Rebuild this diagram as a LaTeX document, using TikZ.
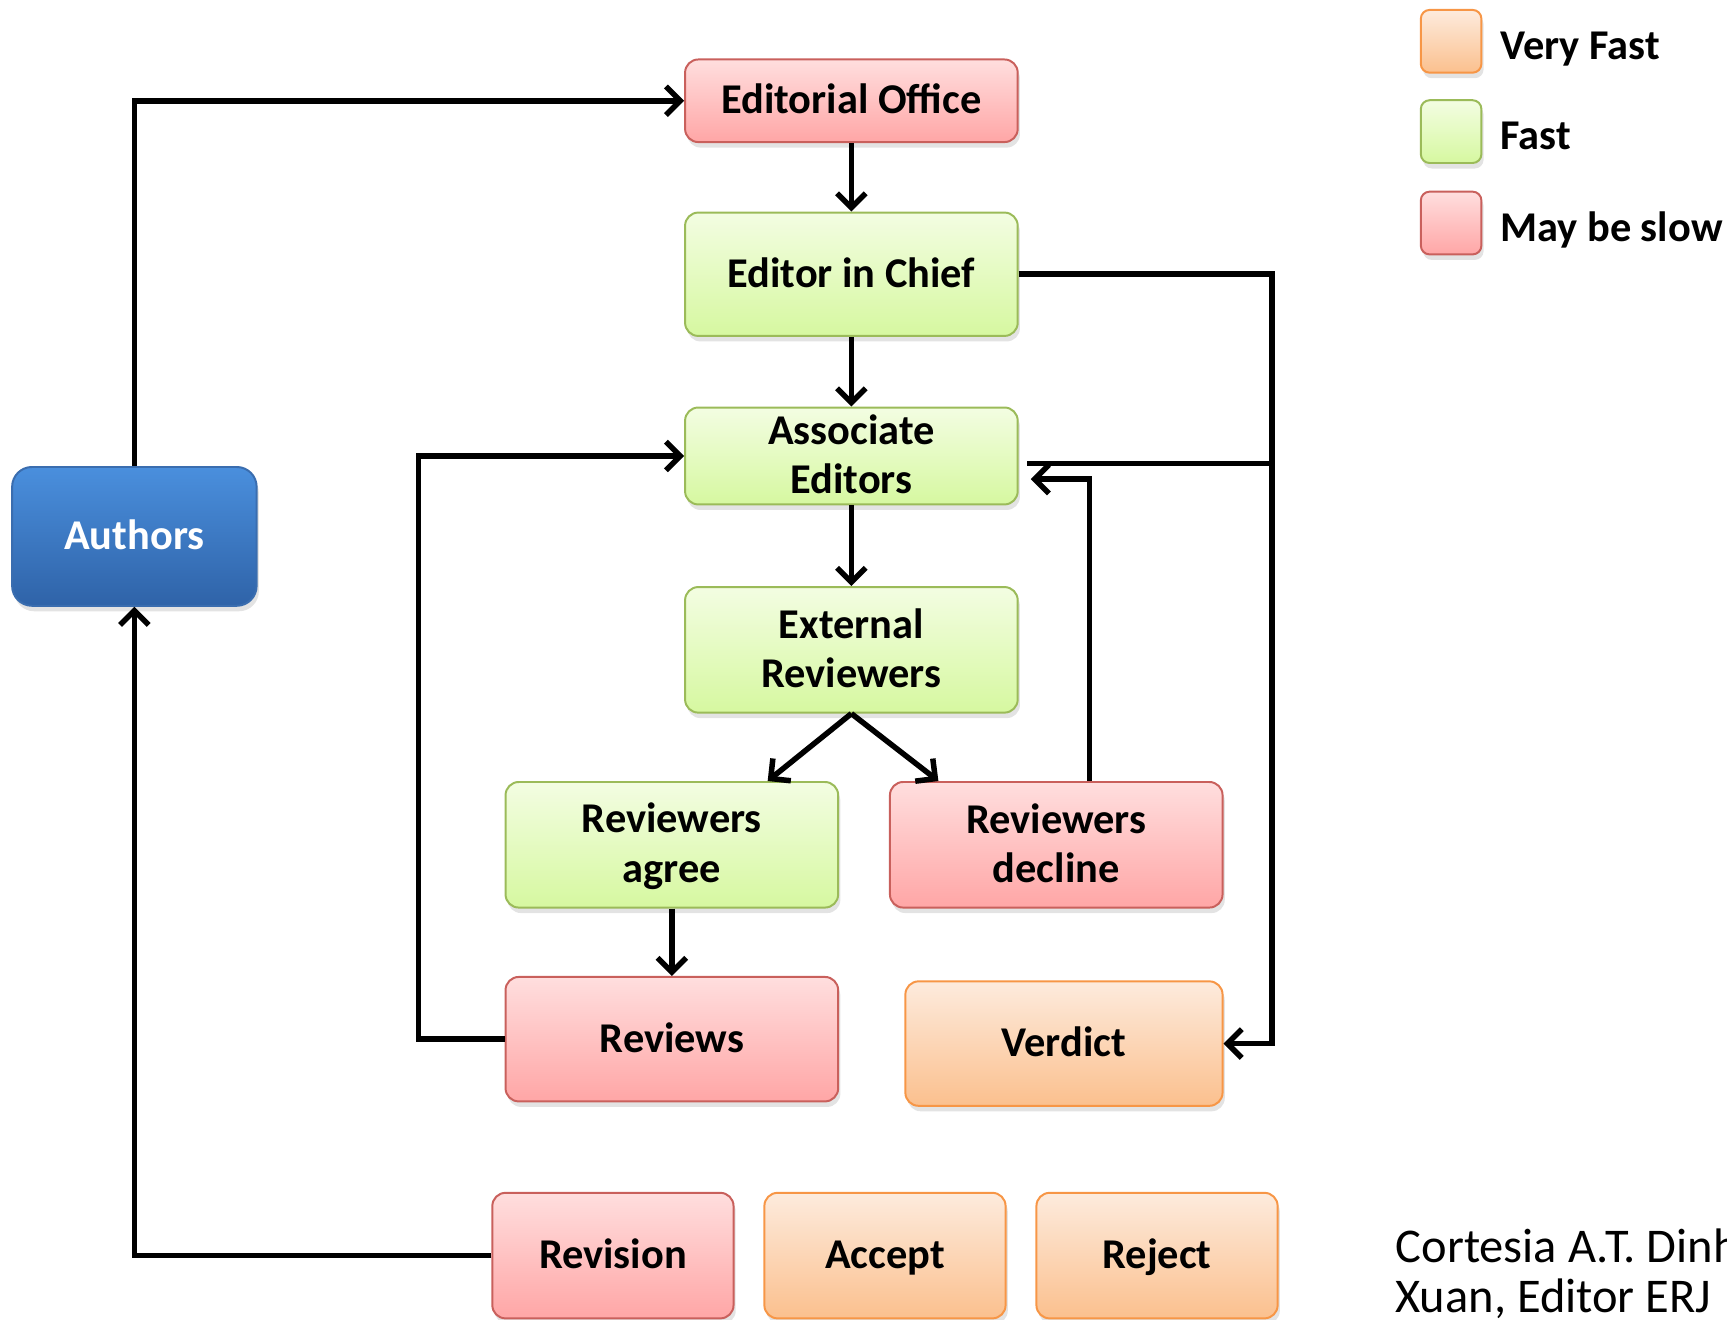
\documentclass[tikz,border=0pt]{standalone}
\usepackage{fontspec}
\setmainfont{Carlito}
\usetikzlibrary{arrows.meta,shadows,calc}
\definecolor{redB}{HTML}{C9605C}
\definecolor{redT}{HTML}{FFDEDE}
\definecolor{redD}{HTML}{FFA6A6}
\definecolor{grnB}{HTML}{9BBB59}
\definecolor{grnT}{HTML}{F3FDE2}
\definecolor{grnD}{HTML}{D6F8A0}
\definecolor{orgB}{HTML}{F79646}
\definecolor{orgT}{HTML}{FDEBDD}
\definecolor{orgD}{HTML}{FBC08E}
\definecolor{bluB}{HTML}{3A6DAF}
\definecolor{bluT}{HTML}{4A8FDD}
\definecolor{bluD}{HTML}{2F63A8}
\newcommand\lstrut{\rule[-6pt]{0pt}{36pt}}
\begin{document}
\begin{tikzpicture}[x=1pt,y=-1pt,
  box/.style={draw, line width=1.8pt, rounded corners=12pt, align=center,
    inner sep=0pt, font=\fontsize{38.5}{45}\selectfont\bfseries,
    drop shadow={shadow xshift=2pt, shadow yshift=-5pt, opacity=0.22}},
  redbox/.style={box, draw=redB, top color=redT, bottom color=redD},
  grnbox/.style={box, draw=grnB, top color=grnT, bottom color=grnD},
  orgbox/.style={box, draw=orgB, top color=orgT, bottom color=orgD},
  blubox/.style={box, draw=bluB, top color=bluT, bottom color=bluD, text=white, rounded corners=18pt},
  legbox/.style={draw, line width=1.8pt, rounded corners=8pt, minimum width=55pt, minimum height=57pt,
    drop shadow={shadow xshift=2pt, shadow yshift=-5pt, opacity=0.22}},
  legtxt/.style={anchor=base west, inner sep=0pt, font=\fontsize{38.5}{45}\selectfont\bfseries},
  credit/.style={anchor=base west, inner sep=0pt, font=\fontsize{44}{46}\selectfont},
  conn/.style={line width=5pt, black},
  arr/.style={conn, -{Straight Barb[length=13pt,width=26pt]}},
]
\useasboundingbox (0,0) rectangle (1568,1198);

% main boxes
\node[redbox, minimum width=302pt, minimum height=75pt] (eo) at (773,91.5) {\lstrut Editorial Office};
\node[grnbox, minimum width=302pt, minimum height=112pt] (eic) at (773,249) {\lstrut Editor in Chief};
\node[grnbox, minimum width=302pt, minimum height=88pt] (ae) at (773,414) {\lstrut Associate\\\lstrut Editors};
\node[grnbox, minimum width=302pt, minimum height=114pt] (er) at (773,590) {\lstrut External\\\lstrut Reviewers};
\node[grnbox, minimum width=302pt, minimum height=114pt] (ra) at (610,767) {\lstrut Reviewers\\\lstrut agree};
\node[redbox, minimum width=302pt, minimum height=114pt] (rd) at (959,767) {\lstrut Reviewers\\\lstrut decline};
\node[redbox, minimum width=302pt, minimum height=113pt] (rv) at (610,943.5) {\lstrut Reviews};
\node[orgbox, minimum width=288pt, minimum height=113pt] (vd) at (966,947.5) {\lstrut Verdict};
\node[redbox, minimum width=219pt, minimum height=114pt] (rev) at (556.5,1140) {\lstrut Revision};
\node[orgbox, minimum width=219pt, minimum height=114pt] (acc) at (803.5,1140) {\lstrut Accept};
\node[orgbox, minimum width=219pt, minimum height=114pt] (rej) at (1050.5,1140) {\lstrut Reject};
\node[blubox, minimum width=222pt, minimum height=126pt] (auth) at (122,487) {\lstrut Authors};

% legend
\node[legbox, draw=orgB, top color=orgT, bottom color=orgD] (l1) at (1317.5,37.5) {};
\node[legbox, draw=grnB, top color=grnT, bottom color=grnD] (l2) at (1317.5,119.5) {};
\node[legbox, draw=redB, top color=redT, bottom color=redD] (l3) at (1317.5,202.5) {};
\node[legtxt] (t1) at (1362,54) {Very Fast};
\node[legtxt] (t2) at (1362,136) {Fast};
\node[legtxt] (t3) at (1362,219) {May be slow};

% credit
\node[credit] (cr1) at (1267,1146) {Cortesia A.T. Dinh};
\node[credit] (cr2) at (1267,1192) {Xuan, Editor ERJ};

% helper coordinates
\coordinate (bus) at (1155,0);
\coordinate (brA) at (1155,421);
\coordinate (brB) at (932,421);
\coordinate (loopx) at (380,0);

% connectors
\draw[arr] (auth.north) |- (eo.west);
\draw[arr] (eo.south) -- (eic.north);
\draw[arr] (eic.south) -- (ae.north);
\draw[arr] (ae.south) -- (er.north);
\draw[arr] (er.south) -- ($(ra.north)+(87,0)$);
\draw[arr] (er.south) -- ($(rd.north)+(-107,0)$);
\draw[arr] (ra.south) -- (rv.north);
\draw[arr] (rv.west) -- (loopx |- rv.west) |- (ae.west);
\draw[arr] (eic.east) -| (bus |- vd.east) -- (vd.east);
\draw[conn] (brA) -- (brB);
\draw[arr] ($(rd.north)+(30,0)$) |- ($(ae.east)+(11,21)$);
\draw[arr] (rev.west) -| (auth.south);
\end{tikzpicture}
\end{document}
